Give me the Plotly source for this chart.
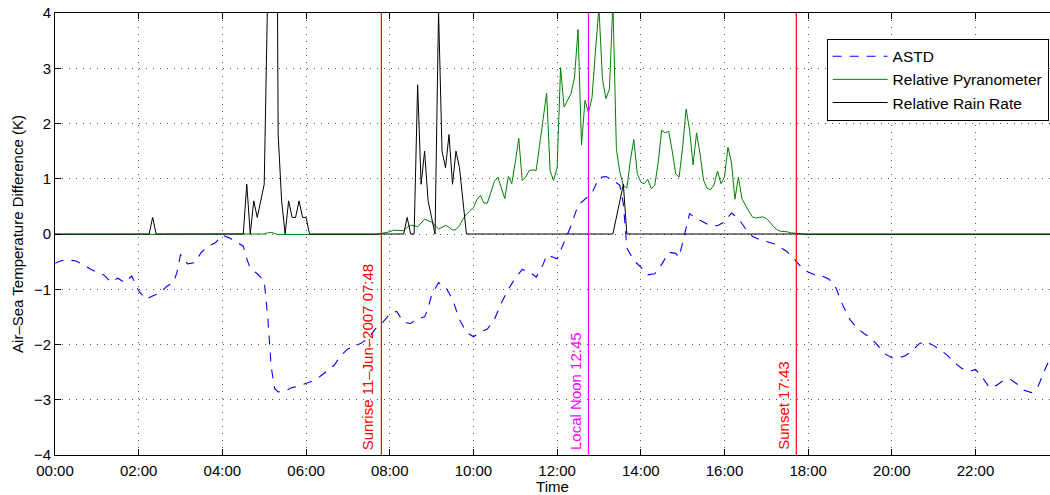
import plotly.graph_objects as go

DAY = "2007-06-11 "

# ---- ASTD (K) ----
astd_t = ["00:00","00:10","00:20","00:30","00:40","00:50","01:00","01:10","01:20","01:30","01:40","01:50",
          "02:00","02:10","02:20","02:30","02:40","02:50","02:55","03:00","03:10","03:20","03:30","03:40","03:50",
          "04:00","04:10","04:20","04:30","04:35","04:40","04:50","05:00","05:05","05:10","05:15","05:20","05:30",
          "05:40","05:50","06:00","06:10","06:20","06:30","06:40","06:50","07:00","07:10","07:20","07:30","07:40",
          "07:50","08:00","08:10","08:20","08:30","08:40","08:50","08:55","09:00","09:10","09:20","09:30","09:40",
          "09:50","10:00","10:10","10:20","10:30","10:40","10:50","11:00","11:10","11:20","11:30","11:40","11:45",
          "11:50","12:00","12:10","12:20","12:30","12:40","12:50","13:00","13:10","13:20","13:30","13:35","13:40",
          "13:50","14:00","14:10","14:20","14:30","14:40","14:50","14:55","15:00","15:05","15:10","15:20","15:30",
          "15:40","15:50","16:00","16:10","16:20","16:30","16:40","16:50","17:00","17:10","17:20","17:30","17:40",
          "17:50","18:00","18:10","18:20","18:30","18:40","18:50","19:00","19:10","19:20","19:30","19:40","19:50",
          "20:00","20:10","20:20","20:30","20:40","20:50","21:00","21:10","21:20","21:30","21:40","21:50","22:00",
          "22:10","22:20","22:30","22:40","22:50","23:00","23:10","23:20","23:30","23:40","23:45"]
astd_v = [-0.53,-0.48,-0.47,-0.49,-0.55,-0.63,-0.69,-0.74,-0.87,-0.80,-0.88,-0.76,
          -1.03,-1.18,-1.12,-1.07,-0.95,-0.87,-0.69,-0.37,-0.54,-0.52,-0.33,-0.22,-0.16,
          -0.02,-0.07,-0.15,-0.22,-0.45,-0.62,-0.72,-0.85,-1.50,-2.40,-2.80,-2.86,-2.84,
          -2.78,-2.75,-2.71,-2.66,-2.58,-2.48,-2.38,-2.20,-2.08,-2.03,-1.97,-1.88,-1.71,
          -1.60,-1.45,-1.40,-1.60,-1.62,-1.53,-1.50,-1.35,-1.10,-0.88,-0.96,-1.18,-1.55,
          -1.78,-1.86,-1.78,-1.72,-1.55,-1.25,-1.00,-0.80,-0.64,-0.68,-0.78,-0.55,-0.38,
          -0.40,-0.45,-0.15,0.15,0.52,0.63,0.74,1.02,1.04,0.98,0.88,0.55,-0.25,
          -0.48,-0.60,-0.74,-0.72,-0.55,-0.33,-0.35,-0.42,-0.15,0.10,0.37,0.28,0.22,
          0.15,0.15,0.22,0.38,0.28,0.10,-0.04,-0.10,-0.13,-0.17,-0.24,-0.32,-0.45,
          -0.60,-0.69,-0.74,-0.76,-0.82,-0.98,-1.30,-1.55,-1.70,-1.80,-1.88,-2.02,-2.17,
          -2.24,-2.24,-2.20,-2.10,-1.98,-1.95,-2.02,-2.10,-2.20,-2.33,-2.43,-2.49,-2.45,
          -2.60,-2.78,-2.74,-2.65,-2.63,-2.72,-2.83,-2.87,-2.75,-2.44,-2.30]

# ---- Relative Pyranometer ----
pyr_t = ["00:00","04:55","05:00","05:05","05:10","05:15","05:20","07:40","07:45","07:50","07:55",
         "08:00","08:05","08:10","08:15","08:20","08:25","08:30","08:35","08:40","08:45","08:50","08:55",
         "09:00","09:05","09:10","09:15","09:20","09:25","09:30","09:35","09:40","09:45","09:50","09:55",
         "10:00","10:05","10:10","10:15","10:20","10:25","10:30","10:35","10:40","10:45","10:50","10:55",
         "11:00","11:05","11:10","11:15","11:20","11:25","11:30","11:35","11:40","11:45","11:50","11:55",
         "12:00","12:05","12:10","12:15","12:20","12:25","12:30","12:35","12:40","12:45","12:50","12:55",
         "13:00","13:05","13:10","13:15","13:20","13:25","13:30","13:35","13:40","13:45","13:50","13:55",
         "14:00","14:05","14:10","14:15","14:20","14:25","14:30","14:35","14:40","14:45","14:50","14:55",
         "15:00","15:05","15:10","15:15","15:20","15:25","15:30","15:35","15:40","15:45","15:50","15:55",
         "16:00","16:05","16:10","16:15","16:20","16:25","16:30","16:35","16:40","16:45","16:50","16:55",
         "17:00","17:05","17:10","17:15","17:20","17:25","17:30","17:35","17:40","17:45","17:50","18:00","23:50"]
pyr_v = [-0.01,-0.01,0.0,0.02,0.03,0.01,-0.01,-0.01,0.0,0.02,0.03,
         0.04,0.07,0.07,0.06,0.06,0.12,0.16,0.15,0.13,0.20,0.27,0.24,
         0.22,0.15,0.09,0.12,0.16,0.12,0.07,0.08,0.15,0.27,0.36,0.42,
         0.48,0.62,0.70,0.56,0.56,0.75,0.95,1.03,0.85,0.64,1.04,0.91,
         1.30,1.73,0.97,1.03,1.15,1.16,1.15,1.65,2.10,2.55,1.14,0.97,
         1.20,3.01,2.30,2.42,2.54,2.84,3.70,1.61,2.42,2.20,2.46,3.31,
         4.10,2.81,2.45,2.62,4.20,1.54,1.12,0.88,0.83,1.33,1.71,1.09,
         0.94,0.91,0.99,0.82,0.88,1.30,1.88,1.83,1.86,1.51,1.09,1.03,
         1.57,2.26,1.88,1.25,1.83,1.45,0.97,0.83,0.80,0.89,1.14,0.91,
         1.03,1.57,1.30,0.63,1.03,0.64,0.52,0.41,0.31,0.29,0.30,0.31,
         0.28,0.22,0.14,0.08,0.05,0.05,0.04,0.02,0.02,0.01,0.0,-0.01,-0.01]

# ---- Relative Rain Rate ----
rain_t = ["00:00","02:15","02:20","02:25","04:30","04:35","04:40","04:45","04:50","04:55","05:00",
          "05:05","05:10","05:15","05:20","05:25","05:30","05:35","05:40","05:45","05:50","05:55","06:00",
          "06:05","08:20","08:25","08:30","08:35","08:40","08:45","08:50","08:55","09:00","09:05","09:10",
          "09:15","09:20","09:25","09:30","09:35","09:40","09:45","09:50","13:20","13:25","13:30","13:35",
          "13:40","23:50"]
rain_v = [0,0,0.3,0,0,0.9,0,0.6,0.3,0.6,0.9,
          4.4,9.0,14.0,1.8,0.6,0,0.6,0.3,0.3,0.6,0.3,0.3,
          0,0,0.3,0,0,2.7,0.9,1.5,0.6,0.3,0,4.05,
          1.5,1.2,1.8,0.9,1.5,1.2,0.6,0,0,0.3,0.6,0.9,
          0,0]

# ---- Event markers ----
events = [("07:48", "Sunrise 11\u2013Jun\u20132007 07:48", "#ff0000"),
          ("12:45", "Local Noon 12:45", "#ff00ff"),
          ("17:43", "Sunset 17:43", "#ff0000")]

x_ticks = ["00:00","02:00","04:00","06:00","08:00","10:00","12:00","14:00","16:00","18:00","20:00","22:00"]
y_ticks = [-4,-3,-2,-1,0,1,2,3,4]

def ts(lst):
    return [DAY + t for t in lst]

FONT = "Liberation Sans, Arial, Helvetica, sans-serif"

fig = go.Figure()
fig.add_trace(go.Scatter(x=ts(astd_t), y=astd_v, mode="lines", name="ASTD",
                         line=dict(color="#0000ff", width=1.1, dash="9px,8px")))
fig.add_trace(go.Scatter(x=ts(pyr_t), y=pyr_v, mode="lines", name="Relative Pyranometer",
                         line=dict(color="#008000", width=1)))
fig.add_trace(go.Scatter(x=ts(rain_t), y=rain_v, mode="lines", name="Relative Rain Rate",
                         line=dict(color="#000000", width=1)))

for t, label, col in events:
    fig.add_shape(type="line", xref="x", yref="paper", x0=DAY + t, x1=DAY + t, y0=0, y1=1,
                  line=dict(color=col, width=1.2), layer="above")
    fig.add_annotation(x=DAY + t, y=-4, xref="x", yref="y", text=label, showarrow=False,
                       textangle=-90, xanchor="right", yanchor="bottom", xshift=-3, yshift=3,
                       font=dict(color=col, size=15, family=FONT))

fig.update_layout(
    width=1050, height=495,
    margin=dict(l=55, r=0, t=13, b=40),
    paper_bgcolor="white", plot_bgcolor="white",
    font=dict(family=FONT, size=15, color="black"),
    showlegend=True,
    legend=dict(x=0.7755, y=0.942, xanchor="left", yanchor="top",
                bgcolor="white", bordercolor="black", borderwidth=1,
                font=dict(size=15.5), itemwidth=55, tracegroupgap=0),
    xaxis=dict(type="date", range=[DAY + "00:00", DAY + "23:46:48"],
               tickvals=ts(x_ticks), ticktext=x_ticks,
               showline=True, linecolor="black", linewidth=1, mirror="ticks",
               ticks="inside", ticklen=6, tickcolor="black", ticklabelstandoff=2,
               showgrid=True, gridcolor="#555555", gridwidth=1, griddash="1px,6px",
               zeroline=False, automargin=False,
               title=dict(text="Time", standoff=4, font=dict(size=15)),
               tickfont=dict(size=15)),
    yaxis=dict(range=[-4, 4], tickvals=y_ticks,
               showline=True, linecolor="black", linewidth=1, mirror=False,
               ticks="inside", ticklen=6, tickcolor="black",
               showgrid=True, gridcolor="#555555", gridwidth=1, griddash="1px,6px",
               zeroline=False, automargin=False,
               title=dict(text="Air\u2013Sea Temperature Difference (K)", standoff=6, font=dict(size=15)),
               tickfont=dict(size=15)),
)

fig.write_html("out.html", config={"displayModeBar": False},
               post_script="document.body.style.margin='0';document.body.style.overflow='hidden';")
